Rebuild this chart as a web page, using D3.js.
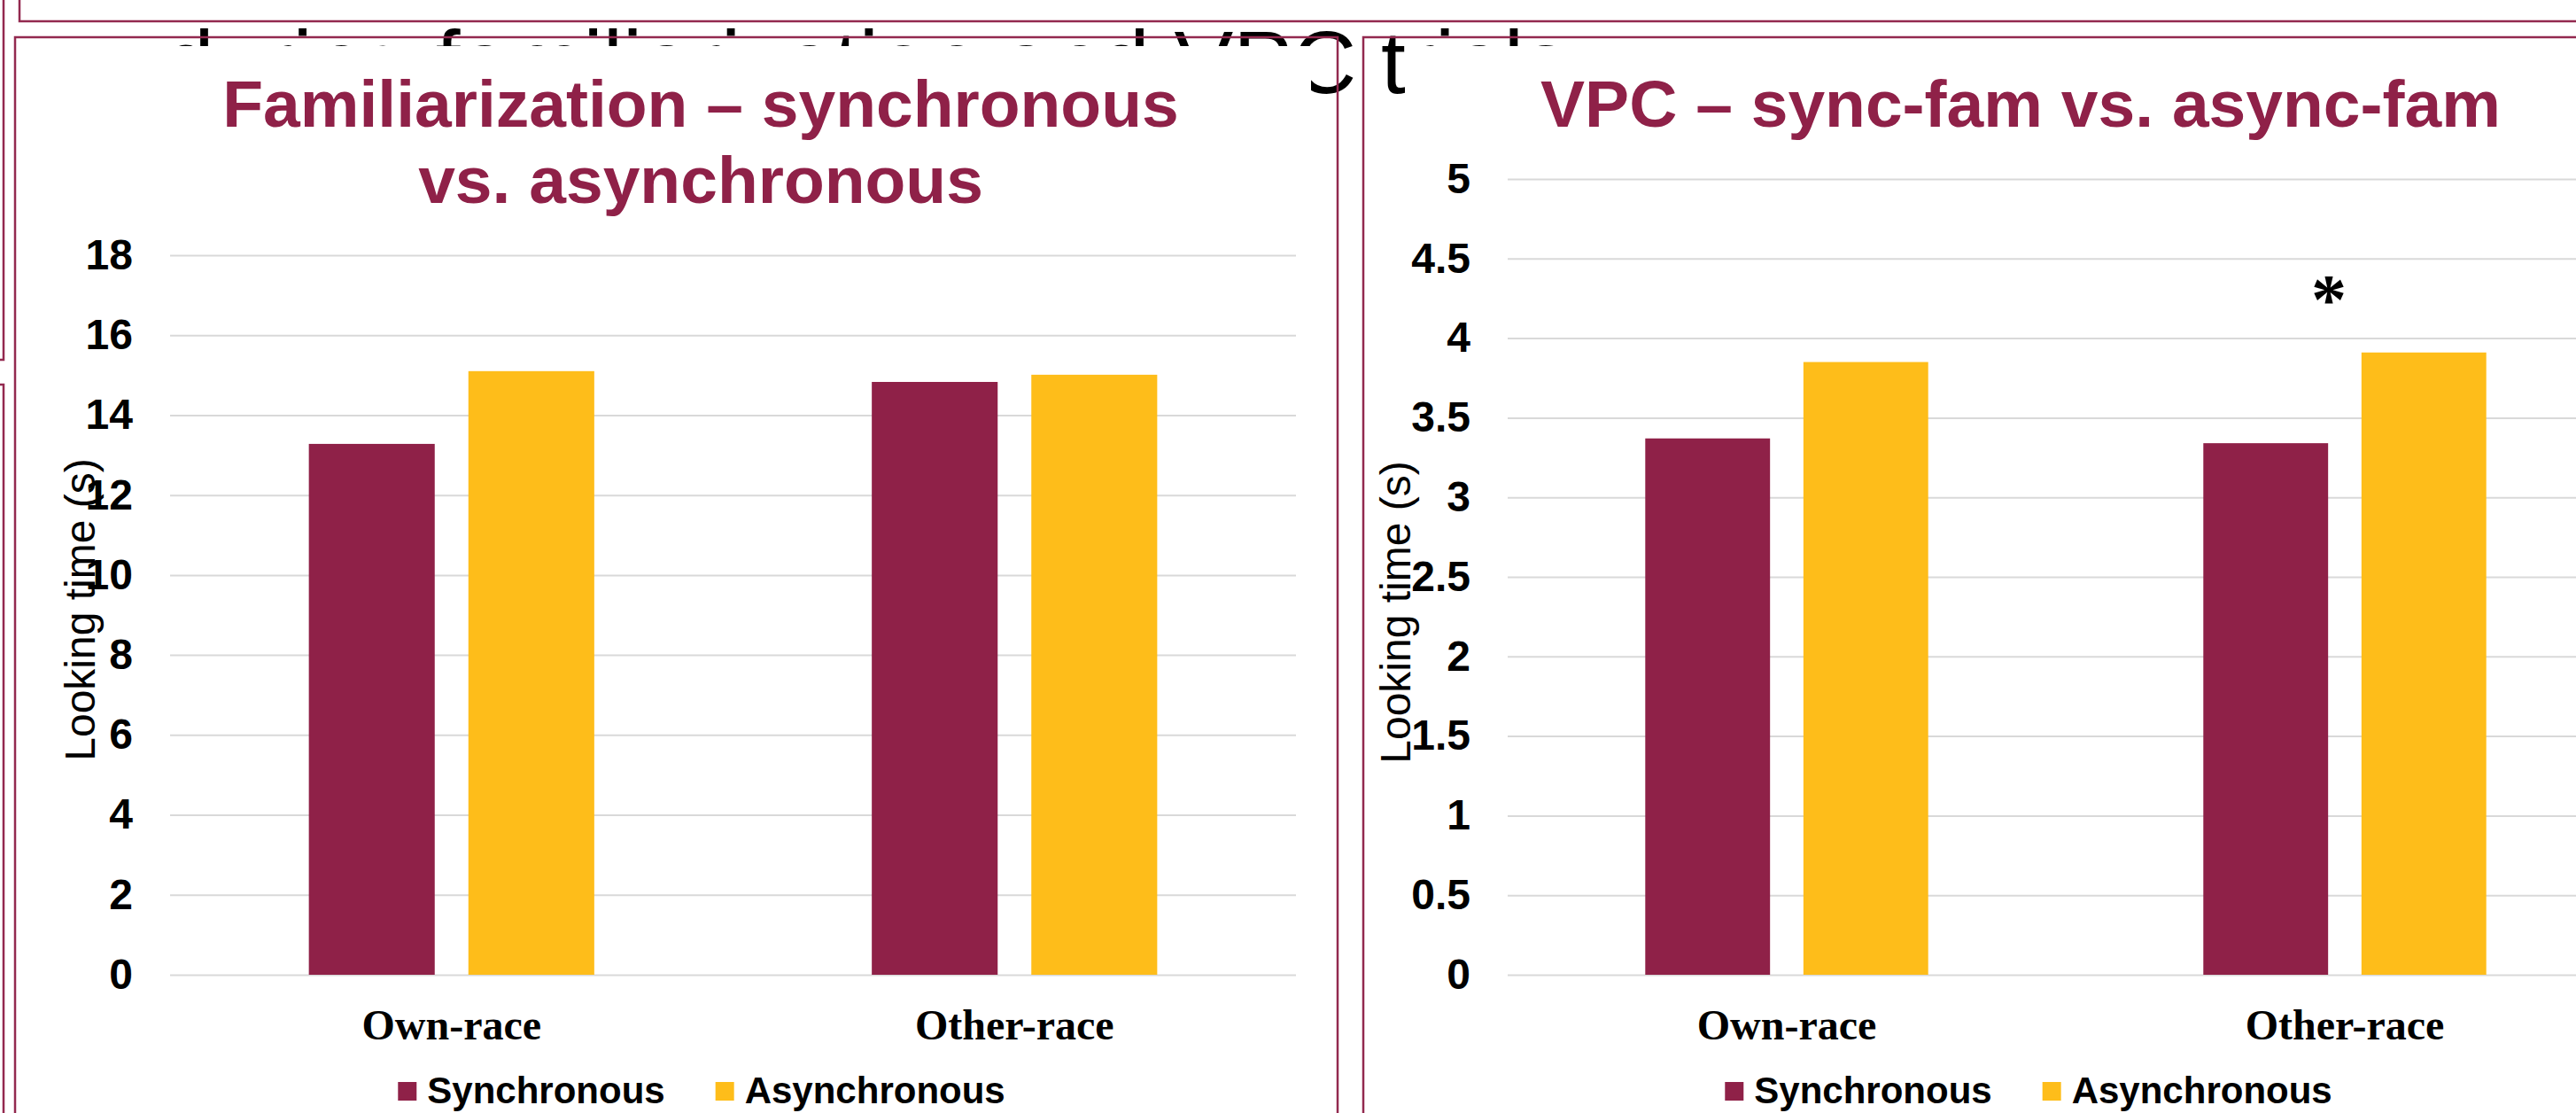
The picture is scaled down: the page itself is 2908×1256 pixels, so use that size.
<!DOCTYPE html>
<html>
<head>
<meta charset="utf-8">
<script src="https://cdn.jsdelivr.net/npm/d3@7"></script>
<style>
  body { margin: 0; background: #fff; }
  svg { display: block; }
</style>
</head>
<body>
<svg id="chart" width="2908" height="1256"></svg>
<script>
const categories = ['Own-race', 'Other-race'];
const seriesNames = ['Synchronous', 'Asynchronous'];
const seriesColors = ['#8f2148', '#febd1a'];

const famTitle = ['Familiarization – synchronous', 'vs. asynchronous'];
const famSync = [13.28, 14.83];
const famAsync = [15.10, 15.01];
const famTicks = [0, 2, 4, 6, 8, 10, 12, 14, 16, 18];
const famStars = ['', ''];

const vpcTitle = ['VPC – sync-fam vs. async-fam'];
const vpcSync = [3.37, 3.34];
const vpcAsync = [3.85, 3.91];
const vpcTicks = [0, 0.5, 1, 1.5, 2, 2.5, 3, 3.5, 4, 4.5, 5];
const vpcStars = ['', '*'];

const yLabel = 'Looking time (s)';
const slideText = 'during familiarization and VPC trials';

const W = 2908, H = 1256;
const maroon = '#8f2148';
const border = '#93294f';
const sans = "'Liberation Sans', Arial, sans-serif";
const serif = "'Liberation Serif', 'Times New Roman', serif";

const svg = d3.select('#chart');

// slide heading behind the charts, mostly covered by them
svg.append('text')
	.attr('x', 186)
	.attr('y', 105)
	.attr('font-family', sans)
	.attr('font-size', 100)
	.attr('fill', '#000')
	.text(slideText);

// white chart areas
svg.append('rect')
	.attr('x', 20).attr('y', 52)
	.attr('width', 1460).attr('height', H - 52)
	.attr('fill', '#fff');
svg.append('rect')
	.attr('x', 1586).attr('y', 52)
	.attr('width', W - 1586).attr('height', H - 52)
	.attr('fill', '#fff');

const panels = [
	{title: famTitle, sync: famSync, async: famAsync, ticks: famTicks, max: 18, stars: famStars,
	 left: 192, right: 1463, top: 288, titleX: 791, yLabelX: 107, yLabelY: 688, legendX: 792},
	{title: vpcTitle, sync: vpcSync, async: vpcAsync, ticks: vpcTicks, max: 5, stars: vpcStars,
	 left: 1702, right: 2962, top: 202, titleX: 2281, yLabelX: 1592, yLabelY: 691, legendX: 2290}
];
const bottom = 1100;

panels.forEach(p => {
	const g = svg.append('g');

	const x0 = d3.scaleBand()
		.domain(categories)
		.range([p.left, p.right]);
	const groupW = x0.bandwidth() * 0.507;
	const x1 = d3.scaleBand()
		.domain(seriesNames)
		.range([0, groupW])
		.paddingInner(0.211);
	const y = d3.scaleLinear()
		.domain([0, p.max])
		.range([bottom, p.top]);

	// gridlines
	const grid = g.append('g')
		.attr('transform', `translate(${p.left},0)`)
		.call(d3.axisLeft(y)
			.tickValues(p.ticks)
			.tickSize(-(p.right - p.left))
			.tickFormat(''));
	grid.select('.domain').remove();
	grid.selectAll('line')
		.attr('stroke', '#d9d9d9')
		.attr('stroke-width', 2);

	// tick labels
	const yAxis = g.append('g')
		.attr('transform', `translate(${p.left},0)`)
		.call(d3.axisLeft(y)
			.tickValues(p.ticks)
			.tickSize(0)
			.tickPadding(42)
			.tickFormat(d => String(d)));
	yAxis.select('.domain').remove();
	yAxis.selectAll('text')
		.attr('font-family', sans)
		.attr('font-weight', 'bold')
		.attr('font-size', 48)
		.attr('fill', '#000');

	// bars
	const rows = categories.map((c, i) => ({cat: c, values: [p.sync[i], p.async[i]], star: p.stars[i]}));
	const groups = g.selectAll('.grp')
		.data(rows)
		.join('g')
			.attr('transform', d => `translate(${x0(d.cat) + (x0.bandwidth() - groupW) / 2},0)`);
	groups.selectAll('rect')
		.data(d => d.values.map((v, j) => ({name: seriesNames[j], value: v})))
		.join('rect')
			.attr('x', d => x1(d.name))
			.attr('y', d => y(d.value))
			.attr('width', x1.bandwidth())
			.attr('height', d => y(0) - y(d.value))
			.attr('fill', (d, j) => seriesColors[j]);

	// significance marks
	g.selectAll('.star')
		.data(rows.filter(d => d.star))
		.join('text')
			.attr('x', d => x0(d.cat) + x0.bandwidth() / 2 - 18)
			.attr('y', d => y(d3.max(d.values)) - 33)
			.attr('text-anchor', 'middle')
			.attr('font-family', serif)
			.attr('font-weight', 'bold')
			.attr('font-size', 80)
			.text(d => d.star);

	// category labels
	const xAxis = g.append('g')
		.attr('transform', `translate(0,${bottom})`)
		.call(d3.axisBottom(x0).tickSize(0).tickPadding(39));
	xAxis.select('.domain').remove();
	xAxis.selectAll('text')
		.attr('font-family', serif)
		.attr('font-weight', 'bold')
		.attr('font-size', 48)
		.attr('fill', '#000');

	// y axis title
	g.append('text')
		.attr('transform', `translate(${p.yLabelX},${p.yLabelY}) rotate(-90)`)
		.attr('text-anchor', 'middle')
		.attr('font-family', sans)
		.attr('font-size', 48)
		.attr('fill', '#000')
		.text(yLabel);

	// chart title
	g.append('text')
		.attr('text-anchor', 'middle')
		.attr('font-family', sans)
		.attr('font-weight', 'bold')
		.attr('font-size', 75)
		.attr('fill', maroon)
		.selectAll('tspan')
		.data(p.title)
		.join('tspan')
			.attr('x', p.titleX)
			.attr('y', (d, i) => 143 + i * 86)
			.text(d => d);

	// legend
	const legend = g.append('g');
	const items = legend.selectAll('g')
		.data(seriesNames)
		.join('g');
	items.append('rect')
		.attr('y', 1221)
		.attr('width', 21)
		.attr('height', 21)
		.attr('fill', (d, i) => seriesColors[i]);
	items.append('text')
		.attr('x', 33)
		.attr('y', 1245)
		.attr('font-family', sans)
		.attr('font-weight', 'bold')
		.attr('font-size', 42)
		.attr('fill', '#000')
		.text(d => d);
	let off = 0;
	items.each(function() {
		const w = d3.select(this).select('text').node().getComputedTextLength();
		d3.select(this).attr('data-off', off);
		off += 33 + w + 57;
	});
	const total = off - 57;
	items.attr('transform', function() {
		return `translate(${p.legendX - total / 2 + (+this.getAttribute('data-off'))},0)`;
	});
});

// frame lines of the slide
const frames = [
	'M22,0 V24 H2908',
	'M4,0 V406 H0',
	'M0,434 H4 V1256',
	'M17,1256 V42 H1510 V1256',
	'M1539,1256 V42 H2908'
];
svg.selectAll('.frame')
	.data(frames)
	.join('path')
		.attr('d', d => d)
		.attr('fill', 'none')
		.attr('stroke', border)
		.attr('stroke-width', 2.5);
</script>
</body>
</html>
